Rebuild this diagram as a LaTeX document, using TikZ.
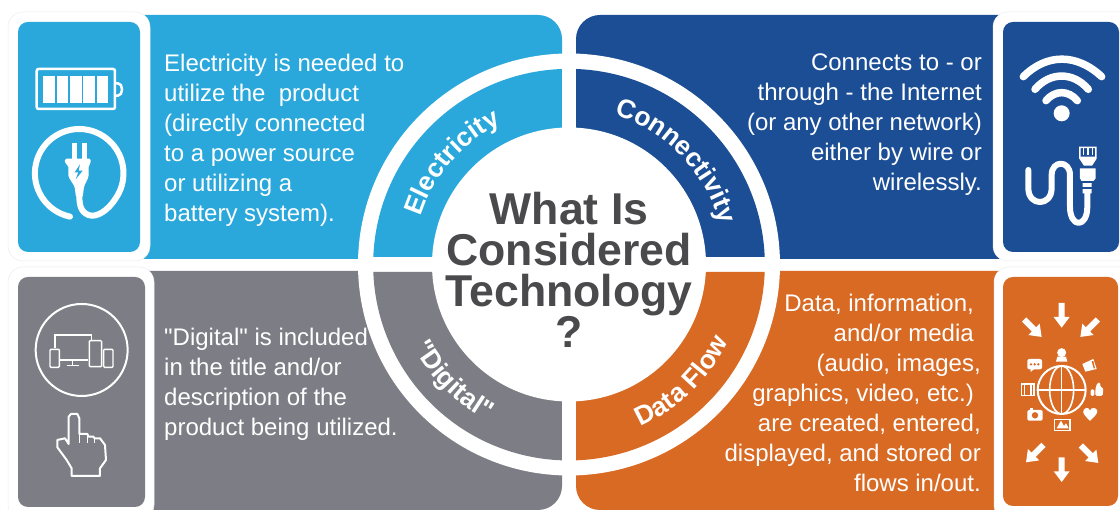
\documentclass[tikz,border=0pt]{standalone}
\usepackage{fontspec}
\setmainfont{Liberation Sans}[Ligatures=TeXOff]
\usetikzlibrary{decorations.text}
\definecolor{cblue}{HTML}{2AA8DB}
\definecolor{cnavy}{HTML}{1B4E94}
\definecolor{cgray}{HTML}{7D7E85}
\definecolor{corange}{HTML}{D86A24}
\definecolor{ctext}{HTML}{4A4A4C}
\tikzset{
  bodytext/.style={text=white,font=\fontsize{24}{30}\selectfont,inner sep=0pt},
  titletext/.style={text=ctext,font=\fontsize{44.6}{41}\selectfont\bfseries,inner sep=0pt,align=center},
  cardouter/.style={fill=white,draw=black!7,line width=0.5pt,rounded corners=15pt},
  cardinner/.style={rounded corners=10pt},
  zoomA/.style={shift={(0,510)},x=0.3333pt,y=-0.3333pt},
  zoomB/.style={shift={(960,510)},x=0.3333pt,y=-0.3333pt},
  zoomC/.style={shift={(0,250)},x=0.3333pt,y=-0.3333pt},
  zoomD/.style={shift={(980,250)},x=0.3333pt,y=-0.3333pt},
}
\newcommand{\fatarrow}[3]{%
  \begin{scope}[shift={(#1,#2)},rotate=#3]
    \fill[white] (-9,-36) -- (9,-36) -- (9,6) -- (24,6) -- (0,38) -- (-24,6) -- (-9,6) -- cycle;
  \end{scope}}
\newcommand{\trailgap}{\rule{7pt}{0pt}}
\begin{document}
\begin{tikzpicture}[x=1pt,y=1pt]
\useasboundingbox (0,0) rectangle (1120,510);
\fill[white] (0,0) rectangle (1120,510);
% panels
\fill[cblue] (80,251) -- (562,251) [rounded corners=24pt] -- (562,495) [sharp corners] -- (80,495) -- cycle;
\fill[cnavy] (1040,251) -- (576,251) [rounded corners=24pt] -- (576,495) [sharp corners] -- (1040,495) -- cycle;
\fill[cgray] (80,239) -- (562,239) [rounded corners=24pt] -- (562,0) [sharp corners] -- (80,0) -- cycle;
\fill[corange] (1040,239) -- (576,239) [rounded corners=24pt] -- (576,0) [sharp corners] -- (1040,0) -- cycle;
% wheel
\fill[white] (569,245.5) circle[radius=211pt];
\fill[cblue] (562,253) -- (373.3,253) arc[start angle=177.7,end angle=92.1,radius=196pt] -- cycle;
\fill[cnavy] (576,253) -- (764.7,253) arc[start angle=2.3,end angle=87.9,radius=196pt] -- cycle;
\fill[cgray] (562,238) -- (373.3,238) arc[start angle=182.2,end angle=267.9,radius=196pt] -- cycle;
\fill[corange] (576,238) -- (764.7,238) arc[start angle=-2.2,end angle=-87.9,radius=196pt] -- cycle;
\fill[white] (569,245.5) circle[radius=137pt];
% ring labels
\path[decorate,decoration={text along path,text align=center,text={|\fontsize{26.5}{26}\selectfont\bfseries\color{white}|Electricity}}]
  (569,245.5) ++(184:156pt) arc[start angle=184,end angle=94,radius=156pt];
\path[decorate,decoration={text along path,text align=center,text={|\fontsize{26.5}{26}\selectfont\bfseries\color{white}|Connectivity}}]
  (569,245.5) ++(89:156pt) arc[start angle=89,end angle=-1,radius=156pt];
\path[decorate,decoration={text along path,text align=center,text={|\fontsize{26.5}{26}\selectfont\bfseries\color{white}|"Digital"}}]
  (569,245.5) ++(180:176pt) arc[start angle=180,end angle=270,radius=176pt];
\path[decorate,decoration={text along path,text align=center,text={|\fontsize{26.5}{26}\selectfont\bfseries\color{white}|Data Flow}}]
  (569,245.5) ++(269:177pt) arc[start angle=269,end angle=359,radius=177pt];
% title
\node[titletext,anchor=north] (title) at (569,318) {What Is\\Considered\\Technology\\?};
% body text
\node[bodytext,anchor=north west,align=left] (elec) at (164,456.5) {Electricity is needed to\\utilize the\ \ product\\(directly connected\\to a power source\\or utilizing a\\battery system).};
\node[bodytext,anchor=north east,align=right] (conn) at (982,456.5) {Connects to - or\\through - the Internet\\(or any other network)\\either by wire or\\wirelessly.};
\node[bodytext,anchor=north west,align=left] (digi) at (164,182) {"Digital" is included\\in the title and/or\\description of the\\product being utilized.};
\node[bodytext,anchor=north east,align=right] (flow) at (981,216.5) {Data, information,\trailgap\\and/or media\trailgap\\(audio, images,\\graphics, video, etc.)\trailgap\\are created, entered,\\displayed, and stored or\\flows in/out.};
% cards
\fill[cardouter] (8,249) rectangle (150,498);
\fill[cblue,cardinner] (18,258) rectangle (140,488);
\fill[cardouter] (993,249) rectangle (1135,498);
\fill[cnavy,cardinner] (1003,258) rectangle (1119,488);
\fill[cardouter] (8,-10) rectangle (154,243);
\fill[cgray,cardinner] (18,3) rectangle (145,233);
\fill[cardouter] (994,-10) rectangle (1135,243);
\fill[corange,cardinner] (1003,4) rectangle (1118,233);
% battery + plug icon
\begin{scope}[zoomA]
  \draw[white,line width=2.5pt,rounded corners=2pt] (110,207) rectangle (345,327);
  \draw[white,line width=2.5pt,rounded corners=2pt] (345,250) -- (360,250) -- (366,262) -- (366,275) -- (360,287) -- (345,287);
  \foreach \i in {0,1,2,3,4}{\fill[white] ({130+\i*40},228) rectangle ({165+\i*40},308);}
  \draw[white,line width=6pt,line cap=round] (210,650) arc[start angle=258,end angle=-35,radius=44.3pt]
     .. controls (325,630) and (290,655) .. (265,645) .. controls (240,635) and (238,610) .. (238,585);
  \fill[white] (217,430) rectangle (232,480);
  \fill[white] (246,430) rectangle (261,480);
  \fill[white,rounded corners=1.5pt] (195,476) -- (272,476) -- (272,490) -- (266,497) -- (266,530) -- (252,560) -- (248,592) -- (228,592) -- (224,560) -- (205,530) -- (205,497) -- (195,490) -- cycle;
  \fill[cblue] (240,493) -- (224,517) -- (235,517) -- (227,538) -- (248,512) -- (236,512) -- cycle;
\end{scope}
% wifi + cable icon
\begin{scope}[zoomB]
  \draw[white,line width=7.5pt,line cap=round] (190,230) .. controls (260,160) and (350,160) .. (425,230);
  \draw[white,line width=7.5pt,line cap=round] (225,268) .. controls (270,215) and (340,215) .. (385,268);
  \draw[white,line width=7.5pt,line cap=round] (258,302) .. controls (285,270) and (325,270) .. (352,302);
  \fill[white] (305,340) circle[radius=8pt];
  \draw[white,line width=6pt,line cap=round,line join=round] (205,510) -- (205,565) .. controls (205,620) and (275,620) .. (275,565) -- (275,525) .. controls (275,480) and (330,480) .. (330,525) -- (330,620) .. controls (330,685) and (382,685) .. (382,620) -- (382,575);
  \fill[white] (360,505) -- (407,505) -- (407,535) -- (395,550) -- (395,580) -- (368,580) -- (368,550) -- (360,535) -- cycle;
  \fill[cnavy] (362,543) rectangle (405,548);
  \fill[cnavy] (362,562) rectangle (405,567);
  \draw[white,line width=1.5pt] (360,442) -- (408,442) -- (408,475) -- (395,495) -- (373,495) -- (360,475) -- cycle;
  \fill[white] (360,470) -- (408,470) -- (395,495) -- (373,495) -- cycle;
  \foreach \x in {371,384,397}{\draw[white,line width=1.5pt] (\x,442) -- (\x,465);}
\end{scope}
% devices + hand icon
\begin{scope}[zoomC]
  \draw[white,line width=2pt] (245,270) circle[radius=46pt];
  \draw[white,line width=1.4pt] (165,265) -- (165,225) -- (275,225) -- (275,240);
  \draw[white,line width=1.4pt] (180,300) -- (265,300);
  \draw[white,line width=1.6pt] (218,300) -- (218,315);
  \draw[white,line width=1.6pt] (200,317) -- (238,317);
  \draw[white,line width=1.4pt,rounded corners=1pt] (150,268) rectangle (178,322);
  \draw[white,line width=1.4pt,rounded corners=1pt] (268,242) rectangle (305,320);
  \draw[white,line width=1.4pt,rounded corners=1pt] (311,268) rectangle (339,322);
  \draw[white,line width=2pt,line join=round] (213,462) -- (232,462) -- (238,475) -- (238,522) -- (262,522) -- (266,530) -- (280,530) -- (284,535) -- (300,535) -- (315,555) -- (318,600) -- (300,625) -- (300,648) -- (215,648) -- (215,625) -- (200,600) -- (172,562) -- (172,540) -- (195,535) -- (206,552) -- (206,470) -- cycle;
  \draw[white,line width=1.6pt] (238,522) -- (238,548) (262,522) -- (262,548) (284,535) -- (284,548);
\end{scope}
% globe icon
\begin{scope}[zoomD]
  \fatarrow{245}{165}{0}
  \fatarrow{158}{204}{45}
  \fatarrow{328}{204}{-45}
  \fatarrow{165}{580}{-45}
  \fatarrow{245}{628}{0}
  \fatarrow{328}{582}{45}
  \draw[white,line width=2pt] (245,390) circle[radius=24pt];
  \draw[white,line width=1.6pt] (245,390) ellipse[x radius=12pt,y radius=24pt];
  \draw[white,line width=1.6pt] (245,318) -- (245,462) (173,390) -- (317,390);
  % person
  \fill[white] (245,278) circle[radius=4.5pt];
  \fill[white] (228,305) -- (232,290) -- (258,290) -- (262,305) -- cycle;
  % speech bubble
  \fill[white,rounded corners=2pt] (142,297) rectangle (186,328);
  \fill[white] (152,325) -- (152,336) -- (165,325) -- cycle;
  \foreach \x in {153,164,175}{\fill[corange] (\x,313) circle[radius=1.3pt];}
  % film
  \draw[white,line width=1.5pt] (124,372) rectangle (162,406);
  \draw[white,line width=1.5pt] (133,372) -- (133,406) (153,372) -- (153,406);
  % camera
  \fill[white,rounded corners=1.5pt] (142,450) rectangle (188,482);
  \fill[white] (150,450) rectangle (160,444);
  \fill[corange] (165,466) circle[radius=3.2pt];
  % photo
  \draw[white,line width=1.4pt] (224,478) rectangle (270,511);
  \fill[white] (230,505) -- (243,482) -- (252,498) -- (258,490) -- (266,505) -- cycle;
  % megaphone
  \fill[white] (307,312) -- (340,297) -- (350,327) -- (316,335) -- cycle;
  \fill[corange] (335,304) -- (341,325) -- (345,325) -- (340,303) -- cycle;
  % thumb
  \fill[white,rounded corners=1.5pt] (332,388) rectangle (343,408);
  \fill[white,rounded corners=1.5pt] (346,388) -- (352,368) -- (362,368) -- (360,382) -- (370,382) -- (368,408) -- (346,408) -- cycle;
  % heart
  \fill[white] (330,483) .. controls (318,470) and (308,462) .. (310,453) .. controls (313,441) and (328,441) .. (330,452) .. controls (332,441) and (350,441) .. (352,453) .. controls (353,462) and (342,470) .. (330,483) -- cycle;
\end{scope}
\end{tikzpicture}
\end{document}
